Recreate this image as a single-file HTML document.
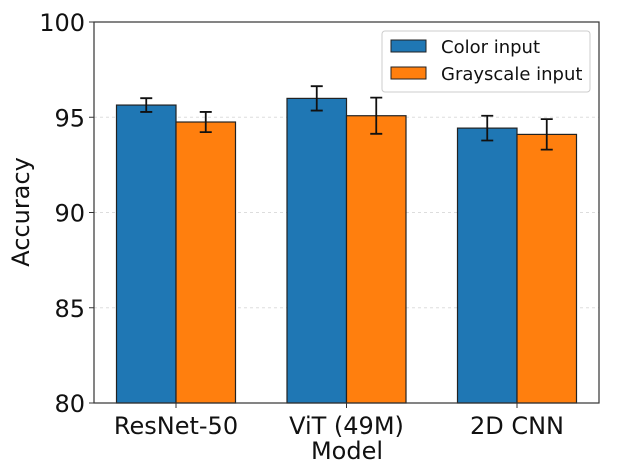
<!DOCTYPE html>
<html><head><meta charset="utf-8"><style>
body{margin:0;background:#fff;}
svg text{font-family:"DejaVu Sans","Liberation Sans",sans-serif;fill:#111;}
</style></head><body>
<svg width="624" height="469" viewBox="0 0 624 469">
<g id="grid"></g>
<g id="bars"></g>
<g id="axes"></g>
<g>
  <rect x="382" y="31" width="208" height="61" rx="3" fill="#fff" fill-opacity="0.85" stroke="#ccc"/>
  <rect x="391" y="40" width="35" height="12" fill="#1f77b4" stroke="#222"/>
  <text x="441" y="53" font-size="18">Color input</text>
  <rect x="391" y="67" width="35" height="12" fill="#ff7f0e" stroke="#222"/>
  <text x="441" y="80" font-size="18">Grayscale input</text>
</g>
<text x="347" y="459" font-size="24" text-anchor="middle">Model</text>
<text transform="translate(29,212) rotate(-90)" font-size="24" text-anchor="middle">Accuracy</text>
</svg>
<script>
const categories=["ResNet-50","ViT (49M)","2D CNN"];
const colorVals=[95.64,95.99,94.43];
const colorErr=[0.36,0.64,0.65];
const grayVals=[94.75,95.08,94.1];
const grayErr=[0.53,0.95,0.8];
const yTicks=[80,85,90,95,100];
const NS="http://www.w3.org/2000/svg";
const L=94,R=599,T=22,B=403,yMin=80,yMax=100;
function y(v){return B-(v-yMin)/(yMax-yMin)*(B-T);}
function xc(i){return 176+i*170.5;}
const bw=59.5;
function mk(tag,attrs,parent){const e=document.createElementNS(NS,tag);for(const k in attrs)e.setAttribute(k,attrs[k]);document.getElementById(parent).appendChild(e);return e;}
yTicks.forEach(t=>{
  if(t>yMin&&t<yMax){const g=mk('line',{x1:L,x2:R,y1:y(t),y2:y(t),stroke:'#ddd','stroke-dasharray':'3,3'},'grid');
  
  }
  const tk=mk('line',{x1:L-5,x2:L,y1:y(t),y2:y(t),stroke:'#333'},'axes');
  
  
  const tx=mk('text',{x:L-9,y:y(t)+9,'font-size':24,'text-anchor':'end'},'axes');tx.textContent=t;
  
  
});
function bar(x,v,e,fill,name){
  const r=mk('rect',{x:x,y:y(v),width:bw,height:B-y(v),fill:fill,stroke:'#222','stroke-width':1.2},'bars');
  
  
  const cx=x+bw/2;
  const el=mk('path',{d:`M${cx},${y(v+e)}V${y(v-e)}M${cx-6},${y(v+e)}H${cx+6}M${cx-6},${y(v-e)}H${cx+6}`,stroke:'#111','stroke-width':1.8,fill:'none'},'bars');
  
  
}
categories.forEach((c,i)=>{
  bar(xc(i)-bw,colorVals[i],colorErr[i],'#1f77b4','bar-color-'+i);
  bar(xc(i),grayVals[i],grayErr[i],'#ff7f0e','bar-gray-'+i);
  const tk=mk('line',{x1:xc(i),x2:xc(i),y1:B,y2:B+5,stroke:'#333'},'axes');
  
  
  const tx=mk('text',{x:xc(i),y:B+31,'font-size':24,'text-anchor':'middle'},'axes');tx.textContent=c;
  
  
});
const fr=mk('rect',{x:L,y:T,width:R-L,height:B-T,fill:'none',stroke:'#333','stroke-width':1.2},'axes');


</script>
</body></html>
